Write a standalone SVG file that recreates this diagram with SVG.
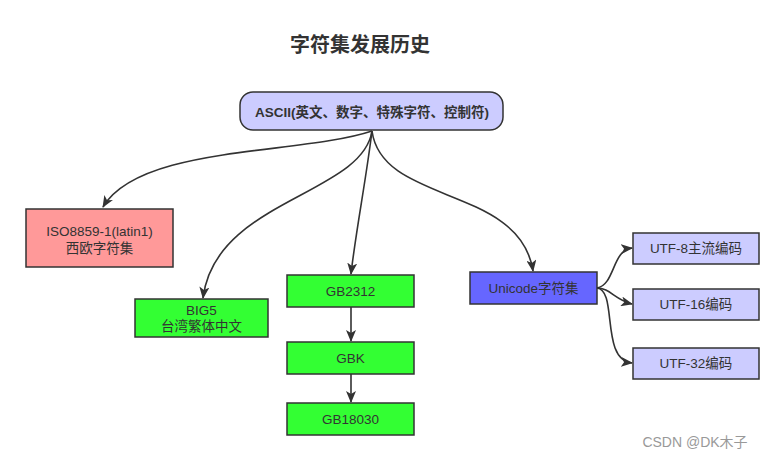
<svg xmlns="http://www.w3.org/2000/svg" width="774" height="460" viewBox="0 0 774 460">
<defs>
<marker id="ah" viewBox="0 0 12 10" refX="11" refY="5" markerWidth="12" markerHeight="10" markerUnits="userSpaceOnUse" orient="auto">
<path d="M0,0 L12,5 L0,10 L3,5 Z" fill="#333"/>
</marker>
<style>
.n{stroke:#333;stroke-width:1.5}
.t{font-family:"Liberation Sans","Noto Sans CJK SC",sans-serif;font-size:13.5px;fill:#333;text-anchor:middle}
.c{fill:none;stroke:#333;stroke-width:1.6;marker-end:url(#ah)}
</style>
</defs>
<rect width="774" height="460" fill="#fff"/>
<text x="360" y="52" style="font-family:'Liberation Sans','Noto Sans CJK SC',sans-serif;font-size:20px;font-weight:bold;fill:#333;text-anchor:middle">字符集发展历史</text>
<g id="connectors">
<path class="c" d="M372,131 C300,155 140,145 103,207"/>
<path class="c" d="M372,131 C362,195 215,200 203,298"/>
<path class="c" d="M372,131 C366,180 356,230 351,274"/>
<path class="c" d="M372,131 C382,205 520,185 533,271"/>
<path class="c" d="M351,307 L351,341"/>
<path class="c" d="M351,374 L351,402"/>
<path class="c" d="M597,288 C615,285 612,250 632,248"/>
<path class="c" d="M597,288 C610,288 615,300 632,304"/>
<path class="c" d="M597,288 C618,290 600,360 632,363"/>
</g>
<g id="ascii"><rect class="n" x="240" y="92" width="263" height="38" rx="13" fill="#ccccff"/><text class="t" x="372" y="117" style="font-weight:bold">ASCII(英文、数字、特殊字符、控制符)</text></g>
<g id="iso"><rect class="n" x="26" y="209" width="147" height="58" fill="#ff9999"/><text class="t" x="99.5" y="236">ISO8859-1(latin1)</text><text class="t" x="99.5" y="253">西欧字符集</text></g>
<g id="big5"><rect class="n" x="135" y="299" width="133" height="38" fill="#33ff33"/><text class="t" x="201.5" y="315">BIG5</text><text class="t" x="201.5" y="331">台湾繁体中文</text></g>
<g id="gb2312"><rect class="n" x="287" y="275" width="127" height="32" fill="#33ff33"/><text class="t" x="350.5" y="296">GB2312</text></g>
<g id="gbk"><rect class="n" x="287" y="342" width="127" height="32" fill="#33ff33"/><text class="t" x="350.5" y="363">GBK</text></g>
<g id="gb18030"><rect class="n" x="287" y="403" width="127" height="32" fill="#33ff33"/><text class="t" x="350.5" y="424">GB18030</text></g>
<g id="unicode"><rect class="n" x="470" y="272" width="127" height="32" fill="#6666ff"/><text class="t" x="533.5" y="293">Unicode字符集</text></g>
<g id="utf8"><rect class="n" x="633" y="233" width="126" height="31" fill="#ccccff"/><text class="t" x="696" y="253">UTF-8主流编码</text></g>
<g id="utf16"><rect class="n" x="633" y="289" width="126" height="31" fill="#ccccff"/><text class="t" x="696" y="309">UTF-16编码</text></g>
<g id="utf32"><rect class="n" x="633" y="348" width="126" height="31" fill="#ccccff"/><text class="t" x="696" y="368">UTF-32编码</text></g>
<text x="695" y="447" style="font-family:'Liberation Sans','Noto Sans CJK SC',sans-serif;font-size:14px;fill:#999;text-anchor:middle">CSDN @DK木子</text>
</svg>
